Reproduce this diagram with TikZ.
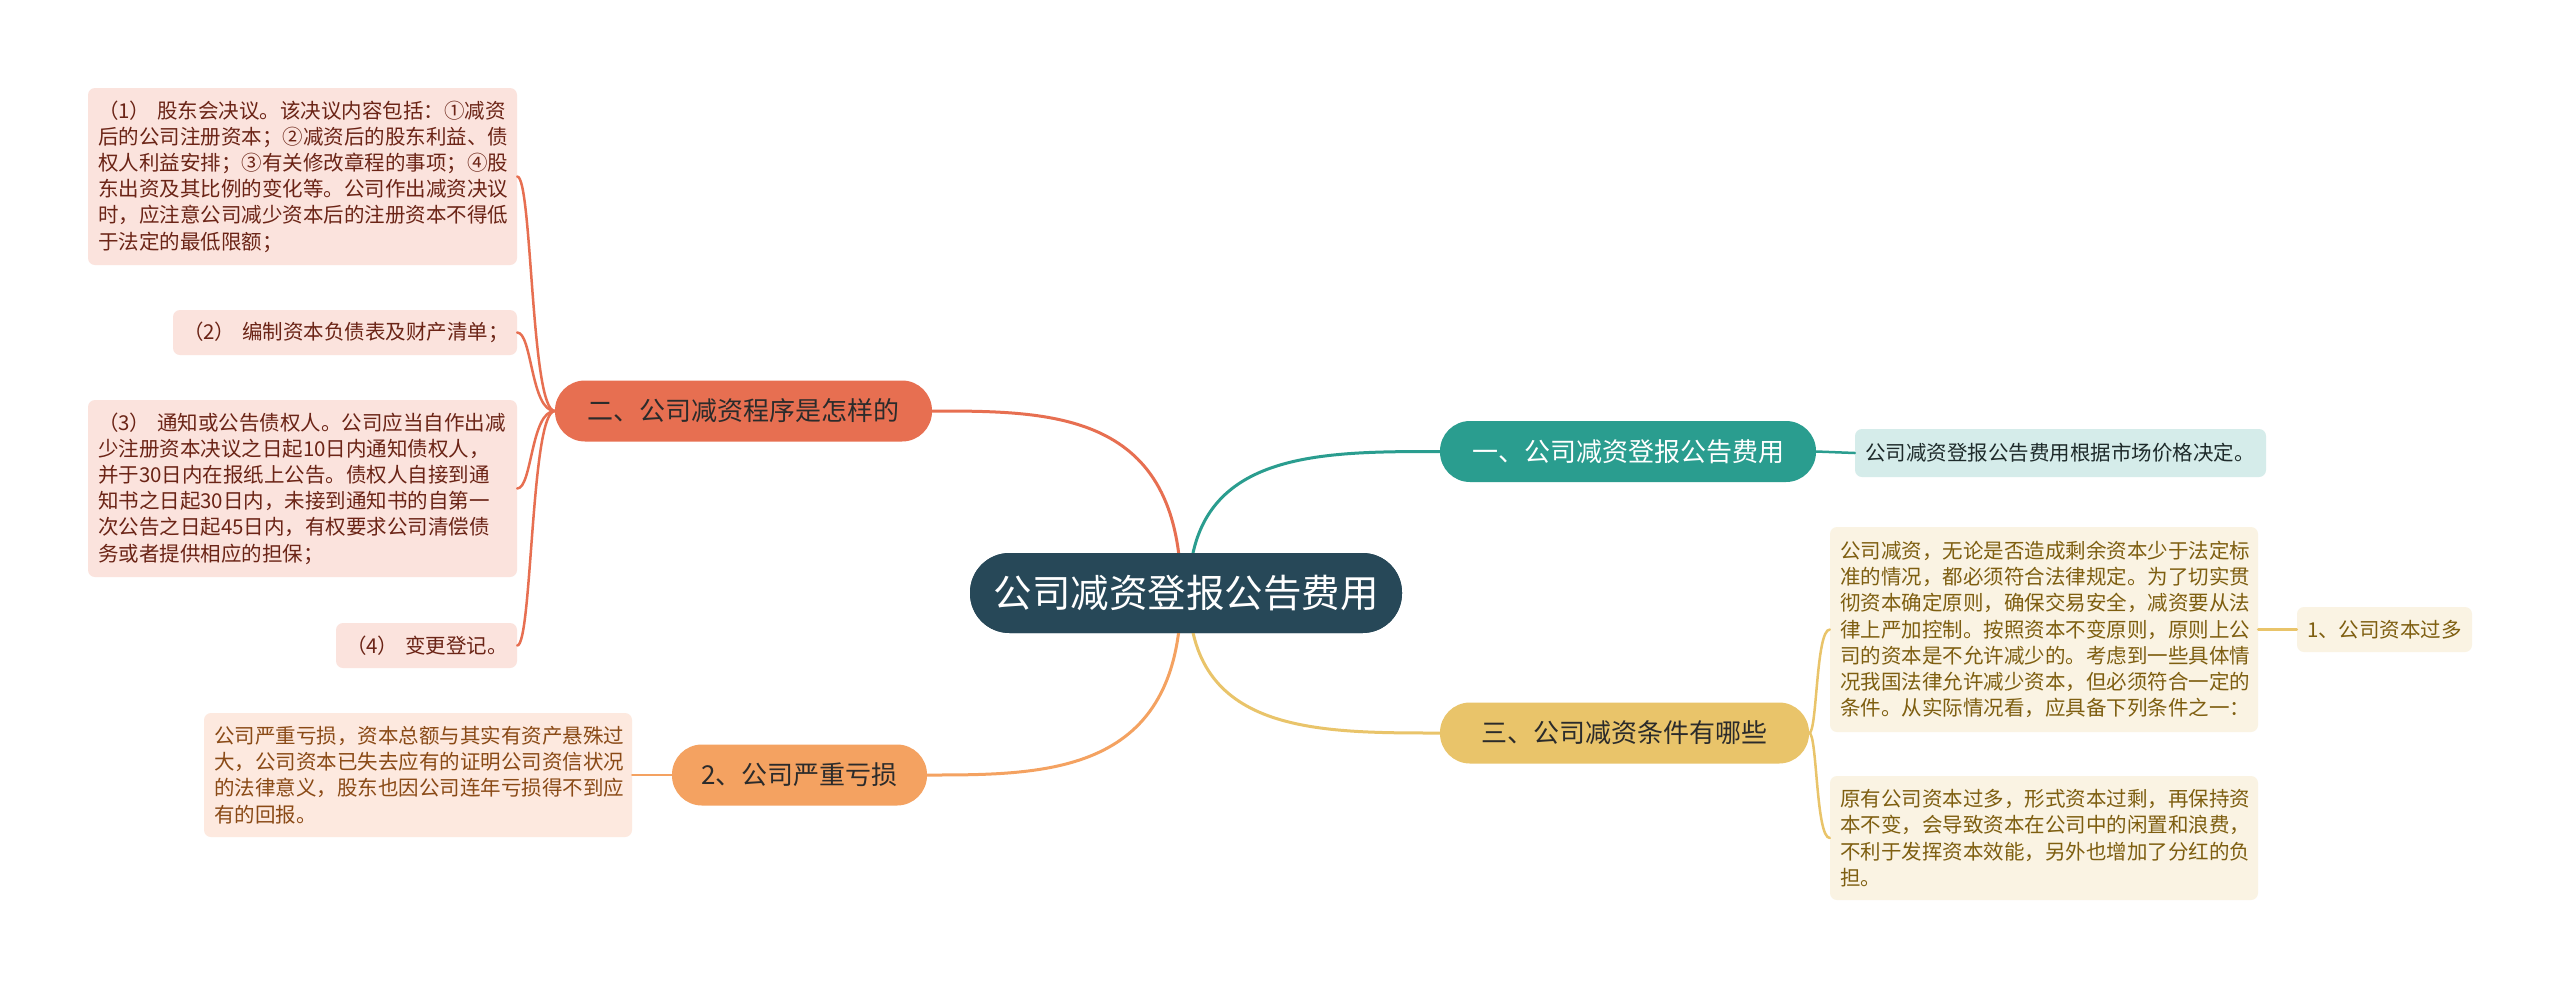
\documentclass[tikz,border=0pt]{standalone}
\usepackage{fontspec}
\setmainfont{Noto Sans CJK SC}
\usetikzlibrary{calc}
\definecolor{rootc}{HTML}{274858}
\definecolor{tealc}{HTML}{2A9D8F}
\definecolor{tealleaf}{HTML}{D5ECEA}
\definecolor{tealtext}{HTML}{1E2A2A}
\definecolor{yelc}{HTML}{E9C46A}
\definecolor{yelleaf}{HTML}{FAF3E3}
\definecolor{yeltext}{HTML}{7E5E10}
\definecolor{coralc}{HTML}{E76F51}
\definecolor{coralleaf}{HTML}{FBE3DD}
\definecolor{coraltext}{HTML}{6B2416}
\definecolor{orc}{HTML}{F4A261}
\definecolor{orleaf}{HTML}{FDE9DF}
\definecolor{ortext}{HTML}{8A4A16}
\definecolor{darktext}{HTML}{2B2B2B}
\tikzset{
  rootbox/.style={fill=rootc, text=white, rounded corners=39.5pt, minimum width=432pt, minimum height=80pt, inner sep=0pt, font=\fontsize{38.5}{46}\selectfont},
  branchbox/.style={rounded corners=30pt, minimum height=61pt, inner sep=0pt, font=\fontsize{26}{31}\selectfont},
  leafbox/.style={rounded corners=7pt, inner xsep=10pt, inner ysep=0pt, align=left, font=\fontsize{20.5}{26.2}\selectfont},
  conn/.style={line width=3pt},
  twig/.style={line width=2.5pt}
}
\begin{document}
\begin{tikzpicture}[x=1pt,y=-1pt]
\fill[white] (0,0) rectangle (2560,989);
\useasboundingbox (0,0) rectangle (2560,989);

% nodes
\node[rootbox] (root) at (1186,593) {公司减资登报公告费用};

\node[branchbox, fill=tealc, text=white, minimum width=376pt] (b1) at (1628,451.5) {一、公司减资登报公告费用};
\node[leafbox, fill=tealleaf, text=tealtext, text width=391pt, minimum height=48pt] (l1) at (2060.5,453) {公司减资登报公告费用根据市场价格决定。};

\node[branchbox, fill=yelc, text=darktext, minimum width=369pt] (b3) at (1624.5,733) {三、公司减资条件有哪些};
\node[leafbox, fill=yelleaf, text=yeltext, text width=408pt, minimum height=205pt] (l3a) at (2044,629.5) {公司减资，无论是否造成剩余资本少于法定标\\准的情况，都必须符合法律规定。为了切实贯\\彻资本确定原则，确保交易安全，减资要从法\\律上严加控制。按照资本不变原则，原则上公\\司的资本是不允许减少的。考虑到一些具体情\\况我国法律允许减少资本，但必须符合一定的\\条件。从实际情况看，应具备下列条件之一：};
\node[leafbox, fill=yelleaf, text=yeltext, text width=408pt, minimum height=124pt] (l3b) at (2044,838) {原有公司资本过多，形式资本过剩，再保持资\\本不变，会导致资本在公司中的闲置和浪费，\\不利于发挥资本效能，另外也增加了分红的负\\担。};
\node[leafbox, fill=yelleaf, text=yeltext, text width=155pt, minimum height=45pt] (l3c) at (2384.5,629.5) {1、公司资本过多};

\node[branchbox, fill=coralc, text=darktext, minimum width=377pt] (b2) at (743.5,411) {二、公司减资程序是怎样的};
\node[leafbox, fill=coralleaf, text=coraltext, text width=409pt, minimum height=177pt] (p1) at (302.5,176.5) {（1）~股东会决议。该决议内容包括：①减资\\后的公司注册资本；②减资后的股东利益、债\\权人利益安排；③有关修改章程的事项；④股\\东出资及其比例的变化等。公司作出减资决议\\时，应注意公司减少资本后的注册资本不得低\\于法定的最低限额；};
\node[leafbox, fill=coralleaf, text=coraltext, text width=324pt, minimum height=45pt] (p2) at (345,332.5) {（2）~编制资本负债表及财产清单；};
\node[leafbox, fill=coralleaf, text=coraltext, text width=409pt, minimum height=177pt] (p3) at (302.5,488.5) {（3）~通知或公告债权人。公司应当自作出减\\少注册资本决议之日起10日内通知债权人，\\并于30日内在报纸上公告。债权人自接到通\\知书之日起30日内，未接到通知书的自第一\\次公告之日起45日内，有权要求公司清偿债\\务或者提供相应的担保；};
\node[leafbox, fill=coralleaf, text=coraltext, text width=161pt, minimum height=45pt] (p4) at (426.5,645.5) {（4）~变更登记。};

\node[branchbox, fill=orc, text=darktext, minimum width=255pt] (b4) at (799.5,775) {2、公司严重亏损};
\node[leafbox, fill=orleaf, text=ortext, text width=408pt, minimum height=124pt] (q1) at (418,775) {公司严重亏损，资本总额与其实有资产悬殊过\\大，公司资本已失去应有的证明公司资信状况\\的法律意义，股东也因公司连年亏损得不到应\\有的回报。};

% connectors
\begin{scope}[line cap=round]
\draw[conn, tealc] ([xshift=3pt]root.center) .. controls ([xshift=3pt]root.center |- b1.west) and ([xshift=-125pt]b1.west) .. (b1.west);
\draw[conn, yelc] ([xshift=3pt]root.center) .. controls ([xshift=3pt]root.center |- b3.west) and ([xshift=-125pt]b3.west) .. (b3.west);
\draw[conn, coralc] ([xshift=-5pt]root.center) .. controls ([xshift=-5pt]root.center |- b2.east) and ([xshift=120pt]b2.east) .. (b2.east);
\draw[conn, orc] ([xshift=-5pt]root.center) .. controls ([xshift=-5pt]root.center |- b4.east) and ([xshift=120pt]b4.east) .. (b4.east);

\draw[twig, tealc] (b1.east) -- (l1.west);
\draw[twig, yelc] (b3.east) .. controls ([xshift=8pt]b3.east) and ([xshift=-14pt]l3a.west) .. (l3a.west);
\draw[twig, yelc] (b3.east) .. controls ([xshift=8pt]b3.east) and ([xshift=-14pt]l3b.west) .. (l3b.west);
\draw[twig, yelc] (l3a.east) -- (l3c.west);

\draw[twig, coralc] (b2.west) .. controls ([xshift=-24pt]b2.west) and ([xshift=15pt]p1.east) .. (p1.east);
\draw[twig, coralc] (b2.west) .. controls ([xshift=-24pt]b2.west) and ([xshift=15pt]p2.east) .. (p2.east);
\draw[twig, coralc] (b2.west) .. controls ([xshift=-24pt]b2.west) and ([xshift=15pt]p3.east) .. (p3.east);
\draw[twig, coralc] (b2.west) .. controls ([xshift=-24pt]b2.west) and ([xshift=15pt]p4.east) .. (p4.east);

\draw[twig, orc] (b4.west) -- (q1.east);
\end{scope}

% root on top of its connectors
\node[rootbox] at (root.center) {公司减资登报公告费用};
\end{tikzpicture}
\end{document}
